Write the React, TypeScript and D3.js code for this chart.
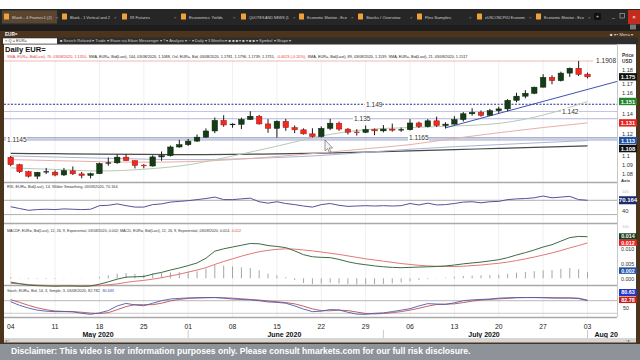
import React, { useLayoutEffect, useRef, useState } from "react";
import * as d3 from "d3";

// ---------------- data ----------------
const openP = [1.0978,1.0906,1.0838,1.0795,1.0832,1.0834,1.0807,1.0847,1.0817,1.0802,
 1.0819,1.0917,1.0924,1.0979,1.0945,1.0899,1.0893,1.0981,1.0993,1.1077,
 1.1099,1.1134,1.1172,1.1232,1.1334,1.1290,1.1296,1.1343,1.1374,1.1300,
 1.1257,1.1325,1.1265,1.1243,1.1204,1.1178,1.1257,1.1307,1.1250,1.1220,
 1.1219,1.1245,1.1233,1.1250,1.1240,1.1244,1.1309,1.1275,1.1330,1.1285,
 1.1298,1.1342,1.1398,1.1411,1.1383,1.1428,1.1445,1.1528,1.1568,1.1596,
 1.1655,1.1750,1.1718,1.1791,1.1838,1.1781];
const highP = [1.0990,1.0915,1.0847,1.0837,1.0875,1.0852,1.0875,1.0889,1.0836,1.0829,
 1.0926,1.0975,1.1008,1.1009,1.0946,1.0912,1.0996,1.1033,1.1091,1.1146,
 1.1155,1.1198,1.1257,1.1362,1.1384,1.1306,1.1360,1.1422,1.1387,1.1346,
 1.1334,1.1349,1.1285,1.1257,1.1258,1.1276,1.1349,1.1323,1.1260,1.1249,
 1.1285,1.1256,1.1289,1.1303,1.1265,1.1346,1.1323,1.1346,1.1371,1.1316,
 1.1375,1.1415,1.1452,1.1430,1.1446,1.1468,1.1540,1.1601,1.1626,1.1660,
 1.1781,1.1770,1.1805,1.1845,1.1908,1.1796];
const lowP = [1.0892,1.0826,1.0782,1.0767,1.0815,1.0794,1.0796,1.0806,1.0774,1.0774,
 1.0815,1.0896,1.0914,1.0942,1.0870,1.0871,1.0888,1.0944,1.0985,1.1071,
 1.1088,1.1125,1.1165,1.1211,1.1272,1.1263,1.1250,1.1337,1.1293,1.1214,
 1.1168,1.1233,1.1211,1.1197,1.1168,1.1170,1.1240,1.1233,1.1198,1.1187,
 1.1211,1.1191,1.1218,1.1225,1.1223,1.1237,1.1261,1.1266,1.1271,1.1256,
 1.1293,1.1323,1.1380,1.1370,1.1380,1.1403,1.1422,1.1509,1.1547,1.1588,
 1.1654,1.1683,1.1710,1.1754,1.1762,1.1739];
const closeP = [1.0906,1.0838,1.0795,1.0832,1.0838,1.0806,1.0848,1.0818,1.0802,1.0819,
 1.0917,1.0923,1.0979,1.0945,1.0899,1.0893,1.0981,1.0993,1.1077,1.1099,
 1.1134,1.1172,1.1232,1.1334,1.1290,1.1296,1.1343,1.1374,1.1300,1.1257,
 1.1325,1.1265,1.1243,1.1204,1.1178,1.1257,1.1307,1.1250,1.1220,1.1219,
 1.1245,1.1233,1.1250,1.1240,1.1244,1.1309,1.1275,1.1330,1.1285,1.1298,
 1.1342,1.1398,1.1411,1.1383,1.1428,1.1445,1.1528,1.1568,1.1596,1.1655,
 1.1750,1.1718,1.1791,1.1838,1.1778,1.1755];

// moving averages, read every 5th session
const maSampleIdx = [0,5,10,15,20,25,30,35,40,45,50,55,60,65];
const sma21 = [1.0875,1.0860,1.0845,1.0862,1.0905,1.0990,1.1085,1.1183,1.1245,1.1265,1.1280,1.1305,1.1385,1.1517];
const sma70 = [1.0955,1.0945,1.0935,1.0930,1.0935,1.0955,1.0985,1.1020,1.1060,1.1100,1.1160,1.1215,1.1265,1.1310];
const sma89 = [1.0990,1.0980,1.0970,1.0960,1.0955,1.0960,1.0975,1.0995,1.1025,1.1055,1.1080,1.1100,1.1120,1.1139];
const sma144 = [1.1015,1.1012,1.1008,1.1005,1.1003,1.1005,1.1010,1.1018,1.1028,1.1040,1.1052,1.1063,1.1075,1.1088];

// drawn trendline (session index, price)
const trendIdx = [49, 68.4];
const trendPrice = [1.1262, 1.1712];

// horizontal levels
const levelValues = [1.1908, 1.149, 1.142, 1.135, 1.1165, 1.1145];
const levelLabels = ["1.1908", "1.149", "1.142", "1.135", "1.1165", "1.1145"];

const priceTicks = [1.18, 1.17, 1.16, 1.14, 1.12, 1.1, 1.09, 1.08];

const rsi = [52,47,42,44,45,44,46,45,44,45,
 55,56,60,55,51,51,58,60,65,67,
 69,72,75,79,72,72,74,76,66,62,
 66,61,58,54,51,58,61,56,53,54,
 55,54,55,54,55,61,57,62,57,58,
 61,65,66,63,66,67,72,74,75,77,
 82,77,79,81,72,70.164];

const macd = [-0.0013,-0.0018,-0.0023,-0.0025,-0.0026,-0.0027,-0.0026,-0.0026,-0.0027,-0.0026,
 -0.0020,-0.0012,-0.0003,0.0004,0.0005,0.0006,0.0014,0.0020,0.0028,0.0035,
 0.0043,0.0052,0.0068,0.0092,0.0100,0.0106,0.0112,0.0118,0.0117,0.0111,
 0.0108,0.0104,0.0093,0.0080,0.0073,0.0071,0.0070,0.0064,0.0056,0.0050,
 0.0046,0.0042,0.0039,0.0037,0.0036,0.0037,0.0038,0.0039,0.0040,0.0042,
 0.0045,0.0049,0.0052,0.0055,0.0059,0.0063,0.0070,0.0079,0.0087,0.0096,
 0.0106,0.0114,0.0126,0.0138,0.0142,0.0141];
const macdSignal = [-0.0017,-0.0019,-0.0021,-0.0023,-0.0024,-0.0025,-0.0025,-0.0026,-0.0026,-0.0026,
 -0.0025,-0.0022,-0.0019,-0.0014,-0.0010,-0.0007,-0.0003,0.0002,0.0008,0.0014,
 0.0021,0.0028,0.0036,0.0047,0.0057,0.0066,0.0075,0.0083,0.0090,0.0095,
 0.0098,0.0100,0.0099,0.0096,0.0093,0.0089,0.0085,0.0081,0.0076,0.0071,
 0.0066,0.0062,0.0058,0.0054,0.0050,0.0047,0.0044,0.0042,0.0041,0.0040,
 0.0040,0.0041,0.0043,0.0045,0.0048,0.0051,0.0055,0.0060,0.0066,0.0072,
 0.0079,0.0086,0.0094,0.0103,0.0111,0.0120];
const macdHist = [0.0004,0.0001,-0.0002,-0.0002,-0.0002,-0.0002,-0.0001,0,-0.0001,0,
 0.0005,0.0010,0.0016,0.0018,0.0015,0.0013,0.0017,0.0018,0.0020,0.0021,
 0.0022,0.0024,0.0032,0.0045,0.0043,0.0040,0.0037,0.0035,0.0027,0.0016,
 0.0010,0.0004,-0.0006,-0.0016,-0.0020,-0.0018,-0.0015,-0.0017,-0.0020,-0.0021,
 -0.0020,-0.0020,-0.0019,-0.0017,-0.0014,-0.0010,-0.0006,-0.0003,-0.0001,0.0002,
 0.0005,0.0008,0.0009,0.0010,0.0011,0.0012,0.0015,0.0019,0.0021,0.0024,
 0.0027,0.0028,0.0032,0.0035,0.0031,0.0021];

const stochK = [75,58,45,35,30,28,28,27,20,15,
 22,33,55,67,60,56,68,80,88,91,
 93,94,95,95,92,88,86,84,80,74,
 72,68,55,40,28,30,38,36,25,16,
 15,20,22,28,35,42,55,66,64,62,
 70,80,84,86,88,92,94,95,95,95,
 94,93,93,93,90,80.633];
const stochD = [85,72,58,46,37,31,29,28,25,21,
 19,23,37,52,61,61,61,68,79,86,
 91,93,94,95,94,92,89,86,83,79,
 75,71,65,54,41,33,32,35,33,26,
 19,17,19,23,28,35,44,54,62,64,
 65,71,78,83,86,89,91,94,95,95,
 95,94,93,93,92,82.782];

const tabLabels = ["Blank - 4 Frames1 (2)", "Blank - 1 Vertical and 2", "IR Futures", "Economics Yields",
  "QUOTES AND NEWS (1", "Economic Monitor - Eco", "Stocks / Overview", "Flex Samples",
  "eUSCONCPI/U Economi", "Economic Monitor - Eco"];

const FONT = "'Liberation Sans', Arial, sans-serif";

// text that shrinks its font until it fits a width
function FitText(props: { x: number; y: number; text: string; size: number; maxW: number; fill: string; weight?: string }) {
  const ref = useRef<SVGTextElement>(null);
  const [fs, setFs] = useState<number | null>(null);
  useLayoutEffect(() => {
    if (!ref.current || fs !== null) return;
    const w = ref.current.getComputedTextLength();
    setFs(w > props.maxW ? (props.size * props.maxW) / w : props.size);
  }, [fs]);
  return (
    <text ref={ref} x={props.x} y={props.y} fontSize={fs ?? props.size} fill={props.fill}
      fontWeight={props.weight} visibility={fs === null ? "hidden" : "visible"}>
      {props.text}
    </text>
  );
}

// multi-colour line of separate texts laid side by side, scaled to a target width
function SegText(props: { x: number; y: number; width: number; weight?: string; segs: { t: string; c: string }[] }) {
  const base = 10;
  const refs = useRef<(SVGTextElement | null)[]>([]);
  const [lay, setLay] = useState<{ fs: number; xs: number[] } | null>(null);
  useLayoutEffect(() => {
    if (lay) return;
    const ws = props.segs.map((_, i) => (refs.current[i] ? refs.current[i]!.getComputedTextLength() : 0));
    const gap = base * 0.35;
    const total = ws.reduce((a, b) => a + b, 0) + gap * (ws.length - 1);
    const k = props.width / total;
    const xs: number[] = [];
    let acc = props.x;
    ws.forEach((w) => {
      xs.push(acc);
      acc += (w + gap) * k;
    });
    setLay({ fs: base * k, xs });
  }, [lay]);
  return (
    <g visibility={lay ? "visible" : "hidden"}>
      {props.segs.map((s, i) => (
        <text key={i} ref={(el) => { refs.current[i] = el; }} x={lay ? lay.xs[i] : props.x} y={props.y}
          fontSize={lay ? lay.fs : base} fill={s.c} fontWeight={props.weight}>
          {s.t}
        </text>
      ))}
    </g>
  );
}

export default function App() {
  const dates = d3.timeDay
    .range(new Date(2020, 4, 4), new Date(2020, 7, 4))
    .filter((d) => d.getDay() !== 0 && d.getDay() !== 6);
  const n = dates.length;

  const PL = 4, PR = 617;
  const x = d3.scaleLinear().domain([0, n - 1]).range([10.7, 587.5]);
  const yP = d3.scaleLinear().domain([1.0758, 1.1995]).range([180, 52]);
  const yR = d3.scaleLinear().domain([0, 100]).range([225.3, 189.6]);
  const yM = d3.scaleLinear().domain([0, 0.01]).range([278.3, 248.8]);
  const yS = d3.scaleLinear().domain([50, 100]).range([307, 296.5]);

  const idxLine = (scale: d3.ScaleLinear<number, number>) =>
    d3.line<number>().x((_, i) => x(i)).y((v) => scale(v));
  const maLine = d3
    .line<number>()
    .x((_, k) => x(maSampleIdx[k]))
    .y((v) => yP(v))
    .curve(d3.curveMonotoneX);

  const mondays = dates.map((d, i) => ({ d, i })).filter((o) => o.d.getDay() === 1);
  const monthStarts = dates
    .map((d, i) => ({ d, i }))
    .filter((o, k) => k > 0 && o.d.getMonth() !== dates[k - 1].getMonth());

  const levelStyle = [
    { stroke: "#e8a8a8", dash: "", w: 0.8, x1: PL, x2: 593, lx: 596 },
    { stroke: "#2b2b9a", dash: "2,1.5", w: 1, x1: PL, x2: PR, lx: 366 },
    { stroke: "#c4c4e6", dash: "", w: 1, x1: PL, x2: PR, lx: 562 },
    { stroke: "#b4b4de", dash: "", w: 1, x1: PL, x2: PR, lx: 354 },
    { stroke: "#7886b8", dash: "", w: 1, x1: PL, x2: PR, lx: 409 },
    { stroke: "#9aa0c4", dash: "", w: 1, x1: PL, x2: PR, lx: 7 },
  ];

  // right-side tags with simple collision push-down
  const priceTags = [
    { v: closeP[n - 1], bg: "#111111" },
    { v: sma21[sma21.length - 1], bg: "#24862a" },
    { v: sma70[sma70.length - 1], bg: "#e52421" },
    { v: sma89[sma89.length - 1], bg: "#2152a3" },
    { v: sma144[sma144.length - 1], bg: "#111111" },
  ];
  let lastY = -100;
  const placedTags = priceTags.map((t) => {
    let yy = yP(t.v);
    if (yy < lastY + 8) yy = lastY + 8;
    lastY = yy;
    return { ...t, y: yy };
  });
  // tick labels avoid tags
  const tickPos = priceTicks.map((t) => {
    let c = yP(t);
    placedTags.forEach((tg) => {
      if (Math.abs(c - tg.y) < 7) c = c < tg.y ? tg.y - 7 : tg.y + 7;
    });
    return Math.min(c, 174);
  });

  const candleW = 5.5;
  const fmt3 = d3.format(".3f");

  const tabX = [3, 61, 121, 180, 240, 298, 357, 416, 476, 535];

  const tag = (xx: number, yy: number, text: string, bg: string, h = 7, fs = 5.6) => (
    <g>
      <rect x={xx} y={yy - h / 2} width={18} height={h} fill={bg} />
      <text x={xx + 9} y={yy + fs * 0.36} fontSize={fs} fill="#fff" fontWeight="bold" textAnchor="middle" fontFamily={FONT}>
        {text}
      </text>
    </g>
  );

  return (
    <svg width={640} height={360} style={{ position: "fixed", left: 0, top: 0 }} fontFamily={FONT}>
      {/* top chrome */}
      <rect x={0} y={0} width={640} height={360} fill="#fff" />
      <rect x={0} y={9} width={640} height={16} fill="#262626" />
      <rect x={2} y={10.5} width={55} height={13} fill="#5a4630" />
      {tabLabels.map((t, k) => (
        <g key={k}>
          <rect x={tabX[k] + 1} y={13.5} width={5} height={6} fill="#f0a23a" rx={0.6} />
          <FitText x={tabX[k] + 9} y={18.6} text={t} size={4.3} maxW={40} fill="#cfcfcf" />
          <text x={tabX[k] + 53} y={18.6} fontSize={4.3} fill="#999">×</text>
        </g>
      ))}
      <rect x={594} y={13} width={7} height={7} fill="#111" />
      <text x={597.5} y={18.3} fontSize={5} fill="#ccc" textAnchor="middle">+</text>
      <text x={612} y={18} fontSize={5} fill="#ccc">_</text>
      <rect x={620} y={13.5} width={4.5} height={4.5} fill="none" stroke="#bbb" strokeWidth={0.6} />
      <rect x={628} y={10} width={12} height={14} fill="#c42b1c" />
      <text x={634} y={19} fontSize={6} fill="#fff" textAnchor="middle">×</text>
      <rect x={0} y={25} width={640} height={6} fill="#1d1d1d" />
      <rect x={630} y={24.5} width={6} height={5} fill="#777" />
      {/* brown frame */}
      <rect x={0} y={31} width={640} height={313} fill="#4b331c" />
      <text x={5} y={35.7} fontSize={4.6} fill="#fff" fontWeight="bold">EUR=</text>
      <text x={610} y={35.7} fontSize={4.2} fill="#ddd">■ ▾ ▪ Menu ▾</text>
      <rect x={2} y={37.5} width={636} height={7} fill="#2e2e2e" />
      <rect x={3} y={38.3} width={54} height={5.4} fill="#fff" />
      <text x={5} y={42.4} fontSize={4} fill="#333">× Q = EUR=</text>
      <text x={60} y={42.4} fontSize={4} fill="#cfcfcf">
        ■ Search  Related ▾  Trade ▾  Share via Eikon Messenger ▾  ? ▾  Analysis ▾  ~ ▾  Daily ▾  3 Months ▾  ■ ■ ■ ▾  ■ ▾ ■ ■ ▾  Symbol ▾  Shape ▾
      </text>

      {/* white chart area */}
      <rect x={4} y={44.5} width={632} height={293.5} fill="#fff" />
      <text x={5} y={51.6} fontSize={7.6} fontWeight="bold" fill="#111">Daily EUR=</text>
      {/* legend line */}
      <SegText x={7} y={58.2} width={461} segs={[
        { t: "SMA, EUR=, Bid(Last), 70, 03/08/2020, 1.1310,", c: "#e23b3b" },
        { t: "SMA, EUR=, Bid(Last), 144, 03/08/2020, 1.1088, Ovl, EUR=, Bid, 03/08/2020, 1.1781, 1.1796, 1.1739, 1.1755,", c: "#222" },
        { t: "-0.0023 (-0.20%),", c: "#e23b3b" },
        { t: "SMA, EUR=, Bid(Last), 89, 03/08/2020, 1.1139, SMA, EUR=, Bid(Last), 21, 03/08/2020, 1.1517", c: "#222" },
      ]} />

      {/* weekly vertical gridlines */}
      {mondays.map((m) => (
        <line key={m.i} x1={x(m.i)} x2={x(m.i)} y1={60} y2={317} stroke="#ececec" strokeWidth={0.8} />
      ))}

      {/* horizontal levels */}
      {levelValues.map((v, k) => (
        <line key={k} x1={levelStyle[k].x1} x2={levelStyle[k].x2} y1={yP(v)} y2={yP(v)}
          stroke={levelStyle[k].stroke} strokeWidth={levelStyle[k].w} strokeDasharray={levelStyle[k].dash} />
      ))}

      {/* moving averages */}
      <path d={maLine(sma144) || ""} fill="none" stroke="#4a4a4a" strokeWidth={1.2} />
      <path d={maLine(sma89) || ""} fill="none" stroke="#a9b3d6" strokeWidth={1} />
      <path d={maLine(sma70) || ""} fill="none" stroke="#e6b0a8" strokeWidth={1} />
      <path d={maLine(sma21) || ""} fill="none" stroke="#b9c9b4" strokeWidth={1} />

      {/* trendline */}
      <line x1={x(trendIdx[0])} x2={x(trendIdx[1])} y1={yP(trendPrice[0])} y2={yP(trendPrice[1])}
        stroke="#4150b0" strokeWidth={1} />

      {/* candles */}
      {closeP.map((c, i) => {
        const o = openP[i];
        const up = c >= o;
        const top = yP(Math.max(o, c));
        const bot = yP(Math.min(o, c));
        const h = Math.max(bot - top, 1);
        const doji = Math.abs(c - o) < 0.0008;
        return (
          <g key={i}>
            <line x1={x(i)} x2={x(i)} y1={yP(highP[i])} y2={yP(lowP[i])} stroke="#1a1a1a" strokeWidth={1} />
            {doji ? (
              <rect x={x(i) - candleW / 2} y={top - 0.5} width={candleW} height={Math.max(h, 1.2)}
                fill={up ? "#1a1a1a" : "#e52421"} />
            ) : (
              <rect x={x(i) - candleW / 2} y={top} width={candleW} height={h}
                fill={up ? "#143d16" : "#f02a22"} stroke={up ? "#0a200b" : "#a8120e"} strokeWidth={0.5} />
            )}
          </g>
        );
      })}

      {/* level labels */}
      {levelValues.map((v, k) => (
        <g key={k}>
          <rect x={levelStyle[k].lx - 1} y={yP(v) - 3.3} width={levelLabels[k].length * 3.3 + 1} height={6.6} fill="#fff" />
          <text x={levelStyle[k].lx} y={yP(v) + 2.3} fontSize={6.6} fill="#333">{levelLabels[k]}</text>
        </g>
      ))}

      {/* cursor */}
      <path d="M325,140 L325,151 L327.6,148.6 L329.4,152.6 L331,151.9 L329.2,148 L332.6,148 Z"
        fill="#f4f4f4" stroke="#555" strokeWidth={0.6} />

      {/* panel separators */}
      {[182.5, 223.5, 285.5, 317.5].map((yy) => (
        <line key={yy} x1={4} x2={617} y1={yy} y2={yy} stroke="#a9a9a9" strokeWidth={1.3} />
      ))}

      {/* RSI */}
      <SegText x={7} y={188} width={111} segs={[
        { t: "RSI, EUR=, Bid(Last), 14, Wilder Smoothing, 03/08/2020, 70.164", c: "#333" },
      ]} />
      <line x1={4} x2={PR} y1={yR(70)} y2={yR(70)} stroke="#9a9a9a" strokeWidth={0.8} />
      <line x1={4} x2={PR} y1={yR(30)} y2={yR(30)} stroke="#9a9a9a" strokeWidth={0.8} />
      <path d={idxLine(yR)(rsi) || ""} fill="none" stroke="#52529a" strokeWidth={1} />

      {/* MACD */}
      <SegText x={7} y={232} width={234} segs={[
        { t: "MACDF, EUR=, Bid(Last), 12, 26, 9, Exponential, 03/08/2020, 0.002; MACD, EUR=, Bid(Last), 12, 26, 9, Exponential, 03/08/2020, 0.014,", c: "#333" },
        { t: "0.012", c: "#e23b3b" },
      ]} />
      {macdHist.map((v, i) => (
        <line key={i} x1={x(i)} x2={x(i)} y1={yM(0)} y2={yM(v)} stroke="#9c9c9c" strokeWidth={0.9} />
      ))}
      <path d={idxLine(yM)(macdSignal) || ""} fill="none" stroke="#e07a72" strokeWidth={1} />
      <path d={idxLine(yM)(macd) || ""} fill="none" stroke="#3f6a45" strokeWidth={1} />

      {/* Stochastic */}
      <SegText x={7} y={292} width={107} segs={[
        { t: "Stoch, EUR=, Bid, 14, 3, Simple, 3, 03/08/2020, 82.782,", c: "#333" },
        { t: "80.633", c: "#3344aa" },
      ]} />
      <line x1={4} x2={PR} y1={yS(80)} y2={yS(80)} stroke="#9a9a9a" strokeWidth={0.7} />
      <line x1={4} x2={PR} y1={yS(20)} y2={yS(20)} stroke="#b5b5b5" strokeWidth={0.7} />
      <path d={idxLine(yS)(stochD) || ""} fill="none" stroke="#c0504d" strokeWidth={0.9} />
      <path d={idxLine(yS)(stochK) || ""} fill="none" stroke="#4c5bb0" strokeWidth={0.9} />

      {/* right axis */}
      <rect x={617} y={44.5} width={19} height={273} fill="#fff" />
      <line x1={617.5} x2={617.5} y1={44.5} y2={317} stroke="#c8c8c8" strokeWidth={1} />
      <text x={622} y={57} fontSize={4.8} fontWeight="bold" fill="#333">Price</text>
      <text x={622} y={62.5} fontSize={4.8} fontWeight="bold" fill="#333">USD</text>
      {priceTicks.map((t, k) => (
        <text key={t} x={622} y={tickPos[k] + 2} fontSize={5.6} fill="#333">{d3.format("~g")(t)}</text>
      ))}
      {placedTags.map((t, k) => (
        <g key={k}>{tag(619, t.y, fmt3(Math.floor(t.v * 1000) / 1000), t.bg, 7.4, 5.8)}</g>
      ))}
      <text x={621} y={182} fontSize={4.3} fontWeight="bold" fill="#333">Axis</text>
      <text x={622} y={193} fontSize={4} fill="#bbb">100</text>
      {tag(619, yR(70.164), "70.164", "#1d2a6b", 8, 6)}
      <text x={622} y={yR(40) + 2} fontSize={5.8} fill="#333">40</text>
      <text x={622} y={228} fontSize={4} fill="#bbb">100</text>
      {tag(619, yM(0.0141) - 0.2, "0.014", "#1e3d20", 6.5, 5.4)}
      {tag(619, yM(0.0141) + 6, "0.012", "#e52421", 6.2, 5.4)}
      {[0.01, 0.005, 0].map((t) => (
        <text key={t} x={621} y={yM(t) + 2.3} fontSize={5.3} fill="#333">{fmt3(t)}</text>
      ))}
      {tag(619, yM(0.0021) - 1.5, "0.002", "#2152a3", 6.5, 5.4)}
      {tag(619, 292.5, "80.63", "#2636c8", 7, 5.4)}
      {tag(619, yS(82.782) - 0.3, "82.78", "#c0201b", 6.5, 5.4)}
      <text x={623} y={yS(50) + 2.8} fontSize={5.3} fill="#333">50</text>

      {/* x axis */}
      {mondays.map((m) => (
        <text key={m.i} x={x(m.i)} y={329} fontSize={6.8} fill="#222" textAnchor="middle">
          {d3.timeFormat("%d")(m.d)}
        </text>
      ))}
      {monthStarts.map((m) => (
        <line key={m.i} x1={x(m.i)} x2={x(m.i)} y1={330} y2={338} stroke="#bdbdbd" strokeWidth={0.8} />
      ))}
      {[
        { lbl: "May 2020", a: 0, b: 19 },
        { lbl: "June 2020", a: 20, b: 41 },
        { lbl: "July 2020", a: 42, b: 64 },
      ].map((mm) => (
        <text key={mm.lbl} x={(x(mm.a) + x(mm.b)) / 2 + 3} y={336.5} fontSize={7} fontWeight="bold" fill="#111" textAnchor="middle">
          {mm.lbl}
        </text>
      ))}
      <text x={x(n - 1) + 7} y={336.5} fontSize={7} fontWeight="bold" fill="#111">Aug 20</text>

      {/* scrollbar */}
      <rect x={4} y={338} width={632} height={4.5} fill="#d6d6d6" />
      <text x={5} y={342} fontSize={4} fill="#666">◂ ‹</text>
      <text x={626} y={342} fontSize={4} fill="#666">› ▸</text>

      {/* disclaimer */}
      <rect x={0} y={344} width={640} height={16} fill="#8d9398" />
      <SegText x={11} y={354} width={460} weight="bold" segs={[
        { t: "Disclaimer: This video is for information purposes only. Please consult hmarkets.com for our full risk disclosure.", c: "#fff" },
      ]} />
    </svg>
  );
}
